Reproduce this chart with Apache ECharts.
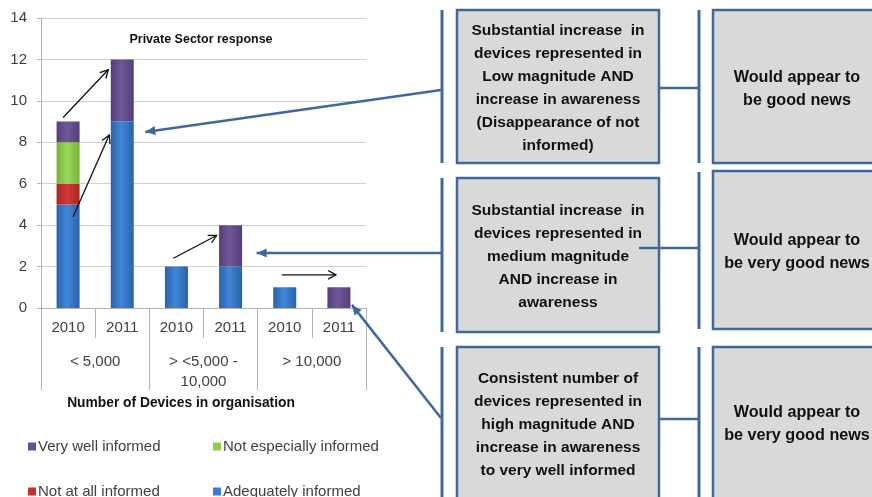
<!DOCTYPE html>
<html>
<head>
<meta charset="utf-8">
<script src="https://cdn.jsdelivr.net/npm/echarts@6/dist/echarts.min.js"></script>
<style>
  html, body { margin: 0; padding: 0; background: #fff; }
  #chart { width: 872px; height: 497px; }
</style>
</head>
<body>
<div id="chart"></div>
<script>
(function () {
    'use strict';

    var years = ['2010', '2011', '2010', '2011', '2010', '2011'];
    var groups = ['< 5,000', '> <5,000 -\n10,000', '> 10,000'];
    var adequately = [5, 9, 2, 2, 1, 0];
    var notAtAll = [1, 0, 0, 0, 0, 0];
    var notEspecially = [2, 0, 0, 0, 0, 0];
    var veryWell = [1, 3, 0, 2, 0, 1];
    var yTicks = {min: 0, max: 14, interval: 2};

    var FONT = '"Liberation Sans", Arial, sans-serif';
    var TXT = '#404040';
    var BLUE_LINE = '#41689a';

    function barGrad(dark, mid) {
        return new echarts.graphic.LinearGradient(0, 0, 1, 0, [
            {offset: 0, color: dark},
            {offset: 0.45, color: mid},
            {offset: 1, color: dark}
        ]);
    }

    var colors = {
        adequately: barGrad('#2c62a8', '#3f86da'),
        notAtAll: barGrad('#a82624', '#d23a36'),
        notEspecially: barGrad('#76b43a', '#9ad859'),
        veryWell: barGrad('#553f78', '#70579a')
    };

    function makeSeries(name, data, color) {
        return {
            name: name,
            type: 'bar',
            stack: 'total',
            barWidth: 23,
            data: data.map(function (v) { return v === 0 ? null : v; }),
            itemStyle: {color: color},
            emphasis: {disabled: true}
        };
    }

    function legendItem(name, left, top, color) {
        return {
            data: [{name: name, itemStyle: {color: color}}],
            left: left,
            top: top,
            icon: 'rect',
            itemWidth: 8,
            itemHeight: 8,
            padding: 0,
            selectedMode: false,
            textStyle: {fontFamily: FONT, fontSize: 15, color: TXT, padding: [0, 0, 0, -3]}
        };
    }

    var chart = echarts.init(document.getElementById('chart'));

    var option = {
        animation: false,
        textStyle: {fontFamily: FONT},
        grid: {left: 41, right: 506, top: 18, bottom: 189},
        legend: [
            legendItem('Very well informed', 28, 439, '#66508f'),
            legendItem('Not especially informed', 213, 439, '#8fcd4f'),
            legendItem('Not at all informed', 28, 484, '#c8302e'),
            legendItem('Adequately informed', 213, 484, '#3a7dd0')
        ],
        xAxis: [{
            type: 'category',
            data: years,
            position: 'bottom',
            axisLine: {lineStyle: {color: '#b3b3b3', width: 1}},
            axisTick: {show: true, interval: 0, length: 30, lineStyle: {color: '#b3b3b3'}},
            axisLabel: {margin: 12, fontSize: 15, color: TXT, interval: 0}
        }, {
            type: 'category',
            data: groups,
            position: 'bottom',
            axisLine: {show: false},
            axisTick: {show: true, interval: 0, length: 82, lineStyle: {color: '#b3b3b3'}},
            axisLabel: {margin: 44, fontSize: 15, color: TXT, lineHeight: 20, interval: 0}
        }],
        yAxis: {
            type: 'value',
            min: yTicks.min,
            max: yTicks.max,
            interval: yTicks.interval,
            axisLine: {show: true, lineStyle: {color: '#b3b3b3'}},
            axisTick: {show: true, length: 4, lineStyle: {color: '#b3b3b3'}},
            axisLabel: {margin: 14, fontSize: 15, color: TXT},
            splitLine: {lineStyle: {color: '#cfcfcf'}}
        },
        series: [
            makeSeries('Adequately informed', adequately, colors.adequately),
            makeSeries('Not at all informed', notAtAll, colors.notAtAll),
            makeSeries('Not especially informed', notEspecially, colors.notEspecially),
            makeSeries('Very well informed', veryWell, colors.veryWell)
        ]
    };
    chart.setOption(option);

    // anchor points on bars: [category index, value, pixel x offset]
    function px(a) {
        var p = chart.convertToPixel({xAxisIndex: 0, yAxisIndex: 0}, [a[0], a[1]]);
        return [p[0] + a[2], p[1]];
    }

    function arrow(from, to, color, width, head, filled) {
        var ang = Math.atan2(to[1] - from[1], to[0] - from[0]);
        var spread = filled ? 0.42 : 0.5;
        var h1 = [to[0] - head * Math.cos(ang - spread), to[1] - head * Math.sin(ang - spread)];
        var h2 = [to[0] - head * Math.cos(ang + spread), to[1] - head * Math.sin(ang + spread)];
        var els = [{
            type: 'line',
            shape: {x1: from[0], y1: from[1], x2: to[0], y2: to[1]},
            style: {stroke: color, lineWidth: width},
            z: 100
        }];
        if (filled) {
            els.push({type: 'polygon', shape: {points: [h1, to, h2]}, style: {fill: color}, z: 101});
        } else {
            els.push({type: 'polyline', shape: {points: [h1, to, h2]}, style: {stroke: color, lineWidth: width, fill: null}, z: 101});
        }
        return els;
    }

    function box(x, y, w, h) {
        return {
            type: 'rect',
            shape: {x: x, y: y, width: w, height: h},
            style: {fill: '#d9d9d9', stroke: BLUE_LINE, lineWidth: 2.5},
            z: 50
        };
    }

    function vline(x, y1, y2) {
        return {type: 'line', shape: {x1: x, y1: y1, x2: x, y2: y2}, style: {stroke: BLUE_LINE, lineWidth: 3}, z: 60};
    }

    function hline(x1, x2, y) {
        return {type: 'line', shape: {x1: x1, y1: y, x2: x2, y2: y}, style: {stroke: BLUE_LINE, lineWidth: 2.5}, z: 60};
    }

    function label(text, x, y, size, bold) {
        return {
            type: 'text',
            x: x,
            y: y,
            z: 70,
            style: {
                text: text,
                fontFamily: FONT,
                fontSize: size,
                fontWeight: bold ? 'bold' : 'normal',
                fill: '#111',
                align: 'center',
                verticalAlign: 'middle',
                lineHeight: 23
            }
        };
    }

    var els = [
        label('Private Sector response', 201, 40, 12.5, true),
        {
            type: 'text', x: 181, y: 403, z: 70,
            style: {text: 'Number of Devices in organisation', fontFamily: FONT, fontSize: 13.8,
                fontWeight: 'bold', fill: '#111', align: 'center', verticalAlign: 'middle'}
        },
        box(457, 10, 202, 153),
        box(713, 10, 170, 153),
        box(457, 178, 202, 154),
        box(713, 171, 170, 158),
        box(457, 347, 202, 160),
        box(713, 347, 170, 160),
        vline(442, 10, 163), vline(699, 10, 163),
        vline(442, 178, 332), vline(699, 172, 329),
        vline(442, 347, 497), vline(699, 347, 497),
        hline(659, 699, 88),
        hline(639, 699, 248),
        hline(659, 699, 419),
        label('Substantial increase  in\ndevices represented in\nLow magnitude AND\nincrease in awareness\n(Disappearance of not\ninformed)', 558, 88, 15.5, true),
        label('Would appear to\nbe good news', 797, 89, 16.2, true),
        label('Substantial increase  in\ndevices represented in\nmedium magnitude\nAND increase in\nawareness', 558, 257, 15.5, true),
        label('Would appear to\nbe very good news', 797, 252, 16.2, true),
        label('Consistent number of\ndevices represented in\nhigh magnitude AND\nincrease in awareness\nto very well informed', 558, 425, 15.5, true),
        label('Would appear to\nbe very good news', 797, 424, 16.2, true)
    ];

    // black trend arrows between years
    els = els.concat(arrow(px([0, 9.2, -5]), px([1, 11.5, -14]), '#111', 1.3, 9, false));
    els = els.concat(arrow(px([0, 4.4, 5]), px([1, 8.35, -13]), '#111', 1.3, 9, false));
    els = els.concat(arrow(px([2, 2.4, -3]), px([3, 3.5, -14]), '#111', 1.3, 9, false));
    els = els.concat(arrow(px([4, 1.6, -3]), px([5, 1.6, -3]), '#111', 1.3, 9, false));
    // blue arrows from the text boxes
    els = els.concat(arrow([441, 90], px([1, 8.5, 23]), BLUE_LINE, 2.5, 11, true));
    els = els.concat(arrow([441, 253], px([3, 2.65, 26]), BLUE_LINE, 2.5, 11, true));
    els = els.concat(arrow([441, 418], px([5, 0.15, 13]), BLUE_LINE, 2.5, 11, true));

    chart.setOption({graphic: {elements: els}});
})();
</script>
</body>
</html>
